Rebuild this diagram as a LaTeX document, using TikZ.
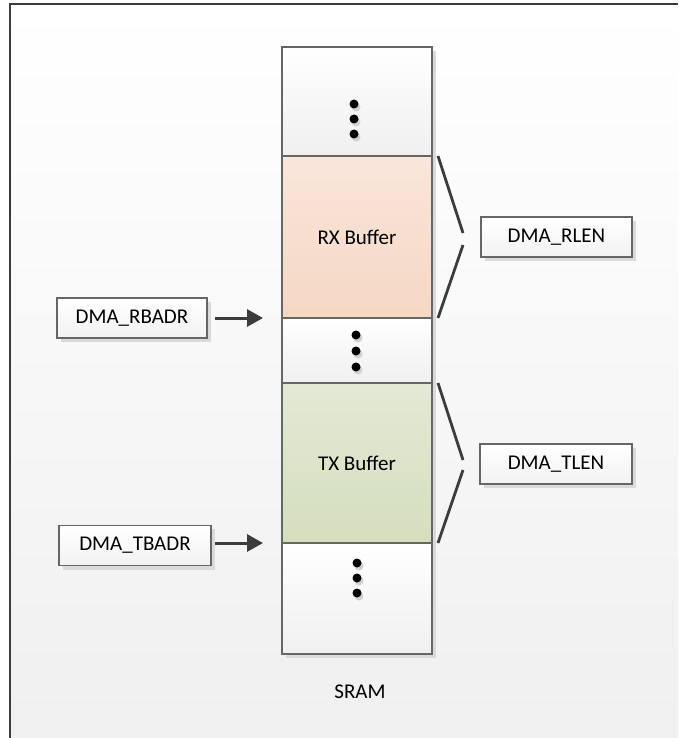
\documentclass[tikz,border=0pt]{standalone}
\usepackage{fontspec}
\setmainfont{Carlito}
\usetikzlibrary{arrows.meta}
\definecolor{frame}{HTML}{3C3C3C}
\definecolor{edge}{HTML}{666666}
\definecolor{shadowc}{HTML}{DADADA}
\tikzset{
  px/.style={x=1pt,y=-1pt},
  sect/.style={draw=edge,line width=1.5pt,inner sep=0pt,outer sep=0pt,minimum width=150pt},
  plain/.style={sect,top color=white,bottom color=black!6},
  rxsect/.style={sect,top color={rgb,255:red,249;green,230;blue,219},bottom color={rgb,255:red,245;green,215;blue,195}},
  txsect/.style={sect,top color={rgb,255:red,227;green,233;blue,213},bottom color={rgb,255:red,213;green,222;blue,189}},
  regbox/.style={draw=edge,line width=1.5pt,inner sep=0pt,outer sep=0pt,minimum height=40pt,top color=white,bottom color=black!5,font=\fontsize{21}{25}\selectfont},
  lbl/.style={font=\fontsize{21}{25}\selectfont,inner sep=0pt},
  ptr/.style={draw=frame,line width=3pt,-{Triangle[length=16pt,width=17pt]}},
  brace/.style={draw=frame,line width=2.8pt},
  dot/.style={circle,fill=black,inner sep=0pt,minimum size=9pt},
  dotsh/.style={circle,fill=black!18,inner sep=0pt,minimum size=9pt},
}
\begin{document}
\begin{tikzpicture}[px]
\useasboundingbox (0,0) rectangle (678,738);
\fill[white] (0,0) rectangle (678,738);
\shade[top color=white,bottom color=black!6] (10,4) rectangle (678,738);
\draw[frame,line width=2pt] (10,738) -- (10,4) -- (678,4);
% shadows
\fill[shadowc] (286,51) rectangle (436,658);
\fill[shadowc] (61,302) rectangle (211,342);
\fill[shadowc] (63,529) rectangle (215,570);
\fill[shadowc] (485,221) rectangle (636,261);
\fill[shadowc] (484,448) rectangle (636,488);
% SRAM column
\node[plain,minimum height=109pt] (top) at (357,101.5) {};
\node[rxsect,minimum height=162pt] (rx) at (357,237) {};
\node[plain,minimum height=65pt] (mid) at (357,350.5) {};
\node[txsect,minimum height=160pt] (tx) at (357,463) {};
\node[plain,minimum height=111pt] (bot) at (357,598.5) {};
\node[lbl] (rxl) at (rx.center) {RX Buffer};
\node[lbl] (txl) at (tx.center) {TX Buffer};
\node[lbl] (sram) at (360,692) {SRAM};
% dots
\foreach \n/\x/\y in {a/354/104,b/354/119,c/354/134,d/356/335,e/356/351,f/356/367,g/357/563,h/357/578,i/357/593}{
  \node[dotsh] (s\n) at (\x+2,\y+3) {};
  \node[dot] (d\n) at (\x,\y) {};
}
% registers
\node[regbox,minimum width=150pt] (rbadr) at (132,318) {DMA\_RBADR};
\node[regbox,minimum width=152pt] (tbadr) at (135,545.5) {DMA\_TBADR};
\node[regbox,minimum width=151pt] (rlen) at (556.5,237) {DMA\_RLEN};
\node[regbox,minimum width=152pt] (tlen) at (556,464) {DMA\_TLEN};
% pointer arrows
\coordinate (rxend) at (263,318);
\coordinate (txend) at (263,543);
\draw[ptr] ([xshift=8pt]rbadr.east) -- (rxend);
\draw[ptr] ([xshift=4pt]tbadr.east|-txend) -- (txend);
% length braces
\coordinate (r1) at (438,156);
\coordinate (r2) at (463,233);
\coordinate (r3) at (463,245);
\coordinate (r4) at (438,318);
\coordinate (t1) at (438,383);
\coordinate (t2) at (463,460);
\coordinate (t3) at (463,470);
\coordinate (t4) at (438,543);
\draw[brace] (r1) -- (r2);
\draw[brace] (r3) -- (r4);
\draw[brace] (t1) -- (t2);
\draw[brace] (t3) -- (t4);
\end{tikzpicture}
\end{document}
